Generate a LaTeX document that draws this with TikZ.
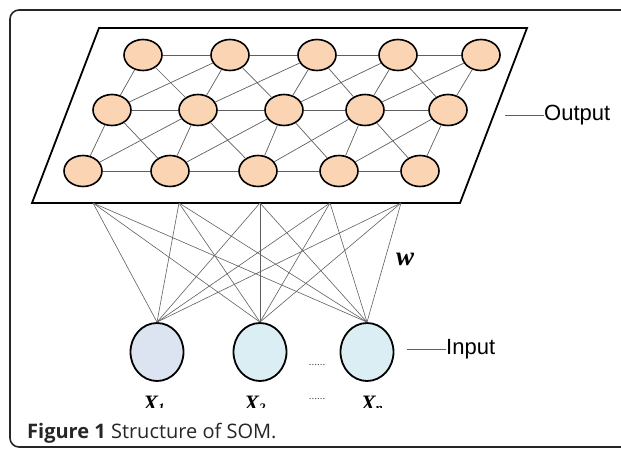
\documentclass[tikz,border=0pt]{standalone}
\usepackage{fontspec}
\setmainfont{Liberation Serif}
\newfontfamily\arialfont{Liberation Sans}
\newfontfamily\legendafont{Open Sans}
\usetikzlibrary{shapes.geometric}

\definecolor{pessego}{RGB}{251,212,180}
\definecolor{azulclaro}{RGB}{220,228,242}
\definecolor{cianoclaro}{RGB}{219,238,244}
\definecolor{cinza}{RGB}{95,95,95}

\tikzset{
  neuronio/.style={ellipse, draw=black, line width=1.6pt, fill=pessego,
    minimum width=38pt, minimum height=31pt, inner sep=0pt},
  entrada/.style={ellipse, draw=black, line width=1.8pt,
    minimum width=53pt, minimum height=58pt, inner sep=0pt},
  ligacao/.style={draw=cinza, line width=0.7pt},
  rotulo/.style={font=\arialfont\fontsize{22}{22}\selectfont, anchor=west, inner sep=0pt},
  variavel/.style={font=\fontsize{22}{22}\selectfont\bfseries\itshape, anchor=base, inner sep=0pt},
  pontos/.style={font=\fontsize{11}{11}\selectfont, text=black!70, inner sep=0pt},
}
\newcommand{\xvar}[1]{X\raisebox{-2pt}{\fontsize{13}{13}\selectfont #1}}

\begin{document}
\begin{tikzpicture}[x=1pt,y=-1pt]
  \clip (0,0) rectangle (621,448);
  % moldura
  \draw[line width=1.6pt, draw=black!85, rounded corners=9pt] (10,10) rectangle (660,447);
  % plano de saida
  \draw[line width=1.8pt, fill=white] (99,28) -- (527,28) -- (460,203) -- (32,203) -- cycle;
  % neuronios
  \node[neuronio] (n11) at (143,55) {};
  \node[neuronio] (n12) at (230,55) {};
  \node[neuronio] (n13) at (317,55) {};
  \node[neuronio] (n14) at (398,55) {};
  \node[neuronio] (n15) at (481,55) {};
  \node[neuronio] (n21) at (112,110) {};
  \node[neuronio] (n22) at (198,110) {};
  \node[neuronio] (n23) at (284,110) {};
  \node[neuronio] (n24) at (365,110) {};
  \node[neuronio] (n25) at (448,110) {};
  \node[neuronio] (n31) at (83,171) {};
  \node[neuronio] (n32) at (170,171) {};
  \node[neuronio] (n33) at (258,171) {};
  \node[neuronio] (n34) at (339,171) {};
  \node[neuronio] (n35) at (420,171) {};
  % grade
  \foreach \r in {1,2,3}
    \foreach \i/\j in {1/2,2/3,3/4,4/5}
      \draw[ligacao] (n\r\i) -- (n\r\j);
  \foreach \r/\s in {1/2,2/3}{
    \foreach \i in {1,...,5}
      \draw[ligacao] (n\r\i) -- (n\s\i);
    \foreach \i/\j in {1/2,2/3,3/4,4/5}{
      \draw[ligacao] (n\r\i) -- (n\s\j);
      \draw[ligacao] (n\s\i) -- (n\r\j);
    }
  }
  % entradas
  \node[entrada, fill=azulclaro] (x1) at (157,352) {};
  \node[entrada, fill=cianoclaro] (x2) at (260,352) {};
  \node[entrada, fill=cianoclaro] (xn) at (367,352) {};
  % pesos
  \coordinate (p1) at (93,203);
  \coordinate (p2) at (179,203);
  \coordinate (p3) at (260,203);
  \coordinate (p4) at (330,203);
  \coordinate (p5) at (401,203);
  \foreach \p in {p1,p2,p3,p4,p5}
    \foreach \x in {x1,x2,xn}
      \draw[ligacao, line width=0.6pt] (\p) -- (\x.north);
  \node[font=\fontsize{27}{27}\selectfont\bfseries\itshape, inner sep=0pt] (w) at (405,259) {w};
  % rotulos
  \coordinate (saida) at (505,115);
  \node[rotulo] (output) at (544,115) {Output};
  \draw[ligacao, line width=1pt] (saida) -- (output.west);
  \coordinate (ent) at (407,349);
  \node[rotulo] (input) at (446,349) {Input};
  \draw[ligacao, line width=1pt] (ent) -- (input.west);
  \node[pontos] (d1) at (317,365) {......};
  \begin{scope}
    \clip (100,385) rectangle (420,407);
    \node[variavel] (l1) at (154,410) {\xvar{1}};
    \node[variavel] (l2) at (255,410) {\xvar{2}};
    \node[variavel] (ln) at (372,410) {\xvar{n}};
    \node[pontos] (d2) at (317,399) {......};
  \end{scope}
  % legenda
  \node[anchor=base west, inner sep=0pt, text=black!85,
    font=\legendafont\fontsize{20}{20}\selectfont] (legenda) at (27,438)
    {\textbf{Figure 1} Structure of SOM.};
\end{tikzpicture}
\end{document}
